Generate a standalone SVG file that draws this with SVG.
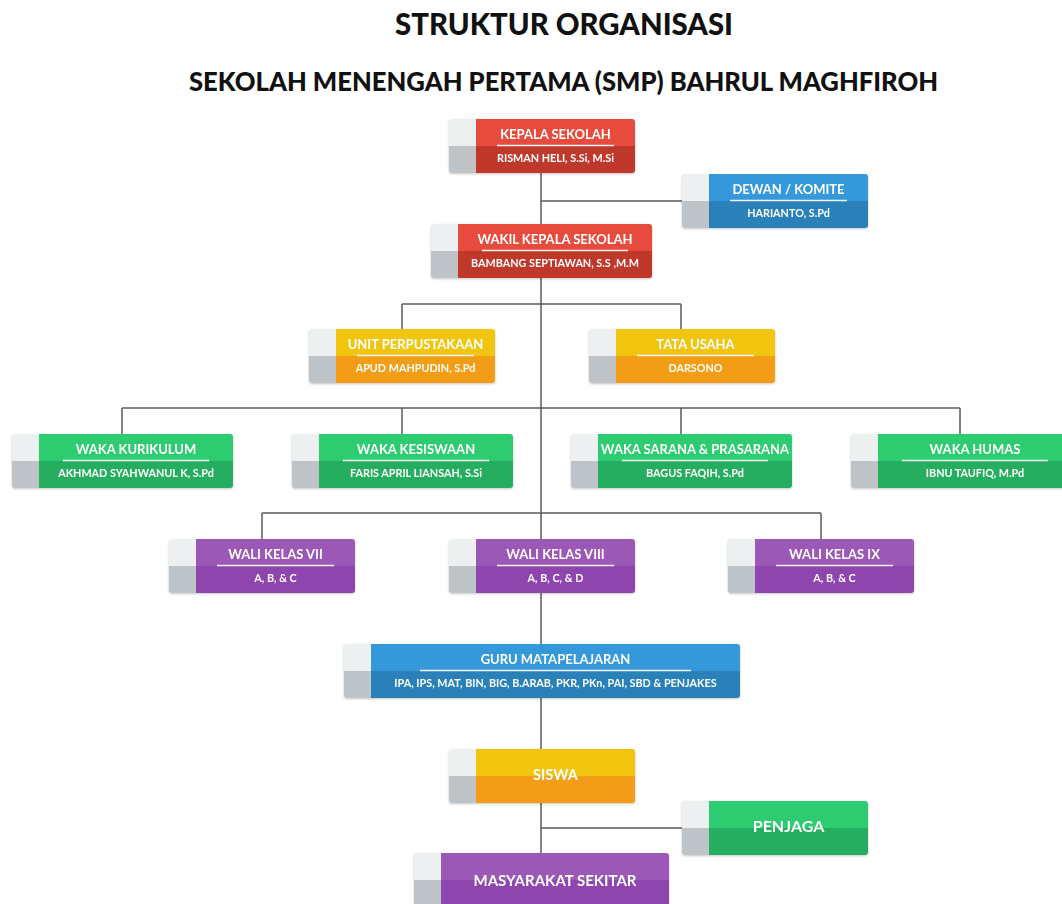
<svg xmlns="http://www.w3.org/2000/svg" width="1062" height="904" viewBox="0 0 1062 904">
<style>
.bg{fill:#ffffff}
.h1{font-family:Lato,"Liberation Sans",sans-serif;font-weight:900;fill:#111;text-anchor:middle}
.t{font-family:Lato,"Liberation Sans",sans-serif;font-weight:700;font-size:13px;fill:#fff;text-anchor:middle}
.s{font-family:Lato,"Liberation Sans",sans-serif;font-weight:700;font-size:10.8px;fill:#fff;text-anchor:middle}
.big{font-family:Lato,"Liberation Sans",sans-serif;font-weight:700;fill:#fff;text-anchor:middle}
.ul{stroke:#F4F6F6;stroke-width:1.6}
.gt{fill:#ECF0F1}.gb{fill:#BDC3C7}
.rt{fill:#E74C3C}.rb{fill:#C0392B}
.bt{fill:#3498DB}.bb{fill:#2980B9}
.yt{fill:#F1C40F}.yb{fill:#F39C12}
.grt{fill:#2ECC71}.grb{fill:#27AE60}
.pt{fill:#9B59B6}.pb{fill:#8E44AD}
.conn line{stroke:#5a5a5a;stroke-width:1.5}
</style>
<defs>
<clipPath id="c186"><rect width="186" height="54" rx="3"/></clipPath>
<clipPath id="c221"><rect width="221" height="54" rx="3"/></clipPath>
<clipPath id="c396"><rect width="396" height="54" rx="3"/></clipPath>
<clipPath id="c255"><rect width="255" height="54" rx="3"/></clipPath>
<filter id="sh" x="-10%" y="-20%" width="120%" height="150%">
<feDropShadow dx="0" dy="1" stdDeviation="1.2" flood-color="#000" flood-opacity="0.22"/>
</filter>
</defs>
<rect class="bg" width="1062" height="904"/>
<text class="h1" x="564" y="35" font-size="30" textLength="338" lengthAdjust="spacingAndGlyphs">STRUKTUR ORGANISASI</text>
<text class="h1" x="563.5" y="91" font-size="26" textLength="749" lengthAdjust="spacingAndGlyphs">SEKOLAH MENENGAH PERTAMA (SMP) BAHRUL MAGHFIROH</text>

<g id="connectors" class="conn">
<line x1="541" y1="173" x2="541" y2="224"/>
<line x1="541" y1="201" x2="682" y2="201"/>
<line x1="541" y1="278" x2="541" y2="539"/>
<line x1="402" y1="304" x2="681" y2="304"/>
<line x1="402" y1="304" x2="402" y2="329"/>
<line x1="681" y1="304" x2="681" y2="329"/>
<line x1="122" y1="408" x2="960" y2="408"/>
<line x1="122" y1="408" x2="122" y2="434"/>
<line x1="402" y1="408" x2="402" y2="434"/>
<line x1="681" y1="408" x2="681" y2="434"/>
<line x1="960" y1="408" x2="960" y2="434"/>
<line x1="262" y1="513" x2="821" y2="513"/>
<line x1="262" y1="513" x2="262" y2="539"/>
<line x1="821" y1="513" x2="821" y2="539"/>
<line x1="541" y1="593" x2="541" y2="644"/>
<line x1="541" y1="698" x2="541" y2="749"/>
<line x1="541" y1="803" x2="541" y2="853"/>
<line x1="541" y1="828" x2="682" y2="828"/>
</g>

<g id="kepala-sekolah" transform="translate(449,119)" filter="url(#sh)">
<g clip-path="url(#c186)"><rect class="gt" width="27" height="27"/><rect class="gb" y="27" width="27" height="27"/><rect class="rt" x="27" width="159" height="27"/><rect class="rb" x="27" y="27" width="159" height="27"/></g>
<line class="ul" x1="48" y1="26.5" x2="165" y2="26.5"/>
<text class="t" x="106.5" y="20">KEPALA SEKOLAH</text>
<text class="s" x="106.5" y="43">RISMAN HELI, S.Si, M.Si</text>
</g>

<g id="dewan-komite" transform="translate(682,174)" filter="url(#sh)">
<g clip-path="url(#c186)"><rect class="gt" width="27" height="27"/><rect class="gb" y="27" width="27" height="27"/><rect class="bt" x="27" width="159" height="27"/><rect class="bb" x="27" y="27" width="159" height="27"/></g>
<line class="ul" x1="48" y1="26.5" x2="165" y2="26.5"/>
<text class="t" x="106.5" y="20">DEWAN / KOMITE</text>
<text class="s" x="106.5" y="43">HARIANTO, S.Pd</text>
</g>

<g id="wakil-kepala-sekolah" transform="translate(431,224)" filter="url(#sh)">
<g clip-path="url(#c221)"><rect class="gt" width="27" height="27"/><rect class="gb" y="27" width="27" height="27"/><rect class="rt" x="27" width="194" height="27"/><rect class="rb" x="27" y="27" width="194" height="27"/></g>
<line class="ul" x1="51" y1="26.5" x2="197" y2="26.5"/>
<text class="t" x="124" y="20">WAKIL KEPALA SEKOLAH</text>
<text class="s" x="124" y="43">BAMBANG SEPTIAWAN, S.S ,M.M</text>
</g>

<g id="unit-perpustakaan" transform="translate(309,329)" filter="url(#sh)">
<g clip-path="url(#c186)"><rect class="gt" width="27" height="27"/><rect class="gb" y="27" width="27" height="27"/><rect class="yt" x="27" width="159" height="27"/><rect class="yb" x="27" y="27" width="159" height="27"/></g>
<line class="ul" x1="48" y1="26.5" x2="165" y2="26.5"/>
<text class="t" x="106.5" y="20">UNIT PERPUSTAKAAN</text>
<text class="s" x="106.5" y="43">APUD MAHPUDIN, S.Pd</text>
</g>

<g id="tata-usaha" transform="translate(589,329)" filter="url(#sh)">
<g clip-path="url(#c186)"><rect class="gt" width="27" height="27"/><rect class="gb" y="27" width="27" height="27"/><rect class="yt" x="27" width="159" height="27"/><rect class="yb" x="27" y="27" width="159" height="27"/></g>
<line class="ul" x1="48" y1="26.5" x2="165" y2="26.5"/>
<text class="t" x="106.5" y="20">TATA USAHA</text>
<text class="s" x="106.5" y="43">DARSONO</text>
</g>

<g id="waka-kurikulum" transform="translate(12,434)" filter="url(#sh)">
<g clip-path="url(#c221)"><rect class="gt" width="27" height="27"/><rect class="gb" y="27" width="27" height="27"/><rect class="grt" x="27" width="194" height="27"/><rect class="grb" x="27" y="27" width="194" height="27"/></g>
<line class="ul" x1="51" y1="26.5" x2="197" y2="26.5"/>
<text class="t" x="124" y="20">WAKA KURIKULUM</text>
<text class="s" x="124" y="43">AKHMAD SYAHWANUL K, S.Pd</text>
</g>

<g id="waka-kesiswaan" transform="translate(292,434)" filter="url(#sh)">
<g clip-path="url(#c221)"><rect class="gt" width="27" height="27"/><rect class="gb" y="27" width="27" height="27"/><rect class="grt" x="27" width="194" height="27"/><rect class="grb" x="27" y="27" width="194" height="27"/></g>
<line class="ul" x1="51" y1="26.5" x2="197" y2="26.5"/>
<text class="t" x="124" y="20">WAKA KESISWAAN</text>
<text class="s" x="124" y="43">FARIS APRIL LIANSAH, S.Si</text>
</g>

<g id="waka-sarana-prasarana" transform="translate(571,434)" filter="url(#sh)">
<g clip-path="url(#c221)"><rect class="gt" width="27" height="27"/><rect class="gb" y="27" width="27" height="27"/><rect class="grt" x="27" width="194" height="27"/><rect class="grb" x="27" y="27" width="194" height="27"/></g>
<line class="ul" x1="51" y1="26.5" x2="197" y2="26.5"/>
<text class="t" x="124" y="20">WAKA SARANA &amp; PRASARANA</text>
<text class="s" x="124" y="43">BAGUS FAQIH, S.Pd</text>
</g>

<g id="waka-humas" transform="translate(851,434)" filter="url(#sh)">
<g clip-path="url(#c221)"><rect class="gt" width="27" height="27"/><rect class="gb" y="27" width="27" height="27"/><rect class="grt" x="27" width="194" height="27"/><rect class="grb" x="27" y="27" width="194" height="27"/></g>
<line class="ul" x1="51" y1="26.5" x2="197" y2="26.5"/>
<text class="t" x="124" y="20">WAKA HUMAS</text>
<text class="s" x="124" y="43">IBNU TAUFIQ, M.Pd</text>
</g>

<g id="wali-kelas-vii" transform="translate(169,539)" filter="url(#sh)">
<g clip-path="url(#c186)"><rect class="gt" width="27" height="27"/><rect class="gb" y="27" width="27" height="27"/><rect class="pt" x="27" width="159" height="27"/><rect class="pb" x="27" y="27" width="159" height="27"/></g>
<line class="ul" x1="48" y1="26.5" x2="165" y2="26.5"/>
<text class="t" x="106.5" y="20">WALI KELAS VII</text>
<text class="s" x="106.5" y="43">A, B, &amp; C</text>
</g>

<g id="wali-kelas-viii" transform="translate(449,539)" filter="url(#sh)">
<g clip-path="url(#c186)"><rect class="gt" width="27" height="27"/><rect class="gb" y="27" width="27" height="27"/><rect class="pt" x="27" width="159" height="27"/><rect class="pb" x="27" y="27" width="159" height="27"/></g>
<line class="ul" x1="48" y1="26.5" x2="165" y2="26.5"/>
<text class="t" x="106.5" y="20">WALI KELAS VIII</text>
<text class="s" x="106.5" y="43">A, B, C, &amp; D</text>
</g>

<g id="wali-kelas-ix" transform="translate(728,539)" filter="url(#sh)">
<g clip-path="url(#c186)"><rect class="gt" width="27" height="27"/><rect class="gb" y="27" width="27" height="27"/><rect class="pt" x="27" width="159" height="27"/><rect class="pb" x="27" y="27" width="159" height="27"/></g>
<line class="ul" x1="48" y1="26.5" x2="165" y2="26.5"/>
<text class="t" x="106.5" y="20">WALI KELAS IX</text>
<text class="s" x="106.5" y="43">A, B, &amp; C</text>
</g>

<g id="guru-matapelajaran" transform="translate(344,644)" filter="url(#sh)">
<g clip-path="url(#c396)"><rect class="gt" width="27" height="27"/><rect class="gb" y="27" width="27" height="27"/><rect class="bt" x="27" width="369" height="27"/><rect class="bb" x="27" y="27" width="369" height="27"/></g>
<line class="ul" x1="76" y1="26.5" x2="347" y2="26.5"/>
<text class="t" x="211.5" y="20">GURU MATAPELAJARAN</text>
<text class="s" x="211.5" y="43">IPA, IPS, MAT, BIN, BIG, B.ARAB, PKR, PKn, PAI, SBD &amp; PENJAKES</text>
</g>

<g id="siswa" transform="translate(449,749)" filter="url(#sh)">
<g clip-path="url(#c186)"><rect class="gt" width="27" height="27"/><rect class="gb" y="27" width="27" height="27"/><rect class="yt" x="27" width="159" height="27"/><rect class="yb" x="27" y="27" width="159" height="27"/></g>
<text class="big" x="106.5" y="31" font-size="14.5">SISWA</text>
</g>

<g id="penjaga" transform="translate(682,801)" filter="url(#sh)">
<g clip-path="url(#c186)"><rect class="gt" width="27" height="27"/><rect class="gb" y="27" width="27" height="27"/><rect class="grt" x="27" width="159" height="27"/><rect class="grb" x="27" y="27" width="159" height="27"/></g>
<text class="big" x="106.5" y="31" font-size="16">PENJAGA</text>
</g>

<g id="masyarakat-sekitar" transform="translate(414,853)" filter="url(#sh)">
<g clip-path="url(#c255)"><rect class="gt" width="27" height="27"/><rect class="gb" y="27" width="27" height="27"/><rect class="pt" x="27" width="228" height="27"/><rect class="pb" x="27" y="27" width="228" height="27"/></g>
<text class="big" x="141" y="32.5" font-size="15">MASYARAKAT SEKITAR</text>
</g>
</svg>
